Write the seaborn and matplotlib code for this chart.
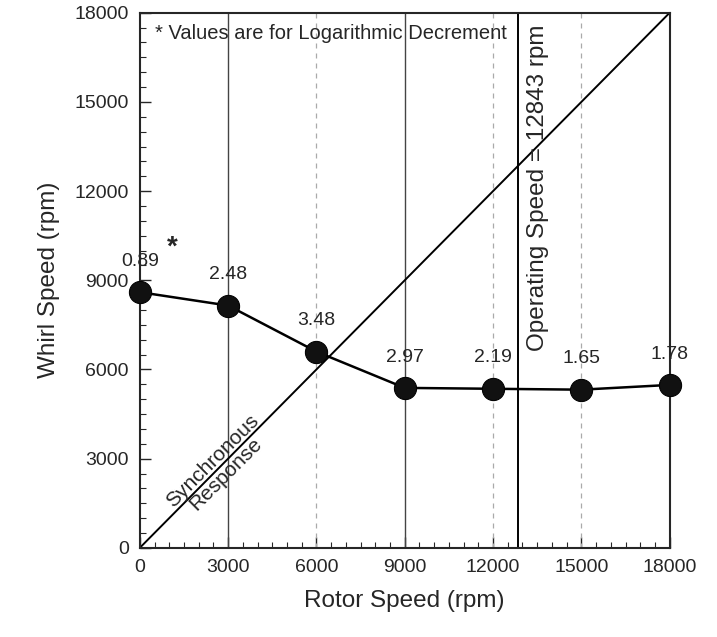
import matplotlib
matplotlib.use("Agg")
import matplotlib.pyplot as plt
from matplotlib.ticker import MultipleLocator
import seaborn as sns
import pandas as pd

# data
rotor_speed = [0, 3000, 6000, 9000, 12000, 15000, 18000]
whirl_speed = [8600, 8150, 6600, 5380, 5350, 5320, 5480]
log_dec = ["0.89", "2.48", "3.48", "2.97", "2.19", "1.65", "1.78"]
grid_solid = [3000, 9000]
grid_faint = [6000, 12000, 15000]
operating_speed = 12843

sns.set_style("ticks")
plt.rcParams['font.family'] = ['Liberation Sans', 'DejaVu Sans']

df = pd.DataFrame({"rotor": rotor_speed, "whirl": whirl_speed})

fig = plt.figure(figsize=(7.17, 6.37), dpi=100)
ax = fig.add_axes([0.195, 0.140, 0.739, 0.840])

for x in grid_solid:
    ax.axvline(x, color="#444444", lw=1.0, zorder=1)
for x in grid_faint:
    ax.axvline(x, color="#aaaaaa", lw=0.9, ls=(0, (4, 4)), zorder=1)
ax.axvline(operating_speed, color="black", lw=1.4, zorder=1)

# synchronous response line (1x)
ax.plot([0, 18000], [0, 18000], color="black", lw=1.4, zorder=2)

sns.lineplot(data=df, x="rotor", y="whirl", ax=ax, color="black", lw=1.8,
             marker="o", markersize=16, markerfacecolor="#111111",
             markeredgecolor="black", zorder=3, clip_on=False)

for x, y, s in zip(rotor_speed, whirl_speed, log_dec):
    ax.text(x, y + 750, s, ha="center", va="bottom", fontsize=14)

ax.text(1100, 10100, "*", fontsize=20, fontweight="bold", ha="center", va="center")
ax.text(500, 17300, "* Values are for Logarithmic Decrement", fontsize=14.5,
        ha="left", va="center")
ax.text(operating_speed + 700, 17600, "Operating Speed = 12843 rpm", rotation=90,
        fontsize=17.5, ha="center", va="top")
ax.text(2700, 2700, "Synchronous\nResponse", rotation=45, fontsize=15,
        ha="center", va="center", rotation_mode="anchor", linespacing=1.0)

ax.set_xlim(0, 18000)
ax.set_ylim(0, 18000)
ax.set_xticks(range(0, 18001, 3000))
ax.set_yticks(range(0, 18001, 3000))
ax.xaxis.set_minor_locator(MultipleLocator(500))
ax.yaxis.set_minor_locator(MultipleLocator(500))
ax.tick_params(which="major", direction="in", length=8, width=1, labelsize=14, pad=8)
ax.tick_params(which="minor", direction="in", length=4, width=0.8)
for sp in ax.spines.values():
    sp.set_linewidth(1.5)
    sp.set_visible(True)

ax.set_xlabel("Rotor Speed (rpm)", fontsize=17.5, labelpad=10)
ax.set_ylabel("Whirl Speed (rpm)", fontsize=17.5, labelpad=10)

fig.savefig("out.png", dpi=100)
